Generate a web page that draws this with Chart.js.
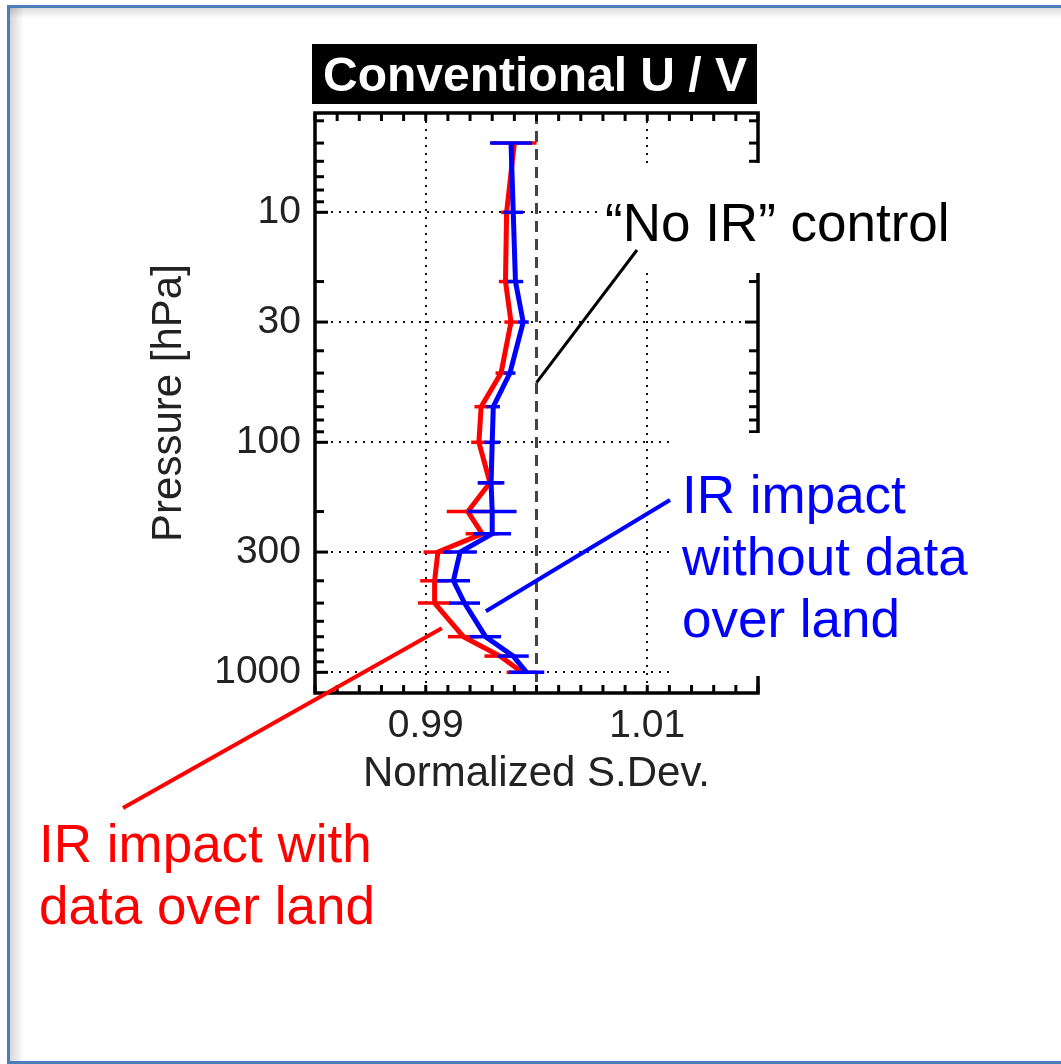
<!DOCTYPE html>
<html>
<head>
<meta charset="utf-8">
<script src="https://cdn.jsdelivr.net/npm/chart.js@4.4.1/dist/chart.umd.min.js"></script>
<style>
  html, body { margin: 0; padding: 0; background: #fff; }
  #wrap { width: 1061px; height: 1064px; }
</style>
</head>
<body>
<div id="wrap"><canvas id="chart" width="1061" height="1064"></canvas></div>
<script>
/* ======== Data ======== */
const levels = [5, 10, 20, 30, 50, 70, 100, 150, 200, 250, 300, 400, 500, 700, 850, 1000];
// blue: IR impact without data over land
const noLandVals = [0.9977, 0.9979, 0.9981, 0.9988, 0.9976, 0.9961, 0.9960, 0.9959, 0.9960, 0.9960, 0.9931, 0.9925, 0.9935, 0.9954, 0.9979, 0.9991];
const noLandErr  = [0.0019, 0.0009, 0.0007, 0.0005, 0.0005, 0.0006, 0.0007, 0.0012, 0.0022, 0.0017, 0.0015, 0.0015, 0.0014, 0.0014, 0.0014, 0.0016];
// red: IR impact with data over land
const landVals = [0.9980, 0.9973, 0.9972, 0.9977, 0.9968, 0.9950, 0.9948, 0.9958, 0.9938, 0.9951, 0.9911, 0.9908, 0.9908, 0.9934, 0.9967, 0.9987];
const landErr  = [0.0020, 0.0005, 0.0006, 0.0006, 0.0005, 0.0006, 0.0007, 0.0011, 0.0019, 0.0015, 0.0013, 0.0013, 0.0015, 0.0014, 0.0014, 0.0014];
const controlValue = 1.00;
const xTickLabels = [0.99, 1.01];
const yTickLabels = [10, 30, 100, 300, 1000];
const xRange = [0.98, 1.02];
const yRange = [3.7, 1230];

const titleText = 'Conventional U / V';
const controlNote = ['\u201cNo IR\u201d control'];
const noLandNote = ['IR impact', 'without data', 'over land'];
const landNote = ['IR impact with', 'data over land'];

const FONT = "'Liberation Sans', Arial, Helvetica, sans-serif";
const RED = '#ff0000', BLUE = '#0000ff';

/* ======== Helpers ======== */
function line(ctx, x1, y1, x2, y2) {
    ctx.beginPath(); ctx.moveTo(x1, y1); ctx.lineTo(x2, y2); ctx.stroke();
}

const errorSets = [
    { vals: noLandVals, err: noLandErr, color: BLUE },
    { vals: landVals, err: landErr, color: RED }
];

/* ======== Decorations plugin ======== */
const decor = {
    id: 'decor',
    beforeDatasetsDraw(chart) {
        const { ctx, chartArea: a, scales: { x } } = chart;
        const px = x.getPixelForValue(controlValue);
        ctx.save();
        ctx.strokeStyle = '#444'; ctx.lineWidth = 3; ctx.setLineDash([11, 7]);
        line(ctx, px, a.top, px, a.bottom);
        ctx.restore();
    },
    afterDatasetDraw(chart, args) {
        const { ctx, scales: { x, y } } = chart;
        const s = errorSets[args.index];
        ctx.save();
        ctx.strokeStyle = s.color; ctx.lineWidth = 3.5;
        levels.forEach((p, i) => {
            const py = y.getPixelForValue(p);
            line(ctx, x.getPixelForValue(s.vals[i] - s.err[i]), py, x.getPixelForValue(s.vals[i] + s.err[i]), py);
        });
        ctx.restore();
    },
    afterDraw(chart) {
        const { ctx, chartArea: a, scales: { x, y } } = chart;
        ctx.save();
        // plot frame
        ctx.strokeStyle = '#000'; ctx.lineWidth = 3.5;
        ctx.strokeRect(a.left, a.top, a.width, a.height);
        // inward ticks, y (log)
        ctx.lineWidth = 3;
        [1, 10, 100, 1000].forEach(dec => {
            for (let m = 1; m <= 9; m++) {
                const v = m * dec;
                if (v < yRange[0] || v > yRange[1]) continue;
                const len = yTickLabels.includes(v) ? 13 : 9;
                const py = y.getPixelForValue(v);
                line(ctx, a.left, py, a.left + len, py);
                line(ctx, a.right, py, a.right - len, py);
            }
        });
        // inward ticks, x
        for (let k = 0; k <= 20; k++) {
            const px = x.getPixelForValue(xRange[0] + k * 0.002);
            line(ctx, px, a.top, px, a.top + 8);
            line(ctx, px, a.bottom, px, a.bottom - 8);
        }
        // white label boxes covering part of the plot
        ctx.fillStyle = '#fff';
        ctx.fillRect(600, 163, 370, 110);
        ctx.fillRect(673, 433, 310, 243);

        // annotation texts
        ctx.font = '53px ' + FONT;
        ctx.textAlign = 'left'; ctx.textBaseline = 'alphabetic';
        ctx.fillStyle = '#000';
        controlNote.forEach((t, i) => ctx.fillText(t, 605, 241 + i * 62));
        ctx.fillStyle = BLUE;
        noLandNote.forEach((t, i) => ctx.fillText(t, 682, 513 + i * 62));
        ctx.fillStyle = RED;
        landNote.forEach((t, i) => ctx.fillText(t, 39, 862 + i * 62));

        // leader lines (chart end anchored in data units)
        ctx.lineWidth = 3; ctx.strokeStyle = '#000';
        line(ctx, 637, 250, x.getPixelForValue(controlValue), y.getPixelForValue(55));
        ctx.lineWidth = 4; ctx.strokeStyle = BLUE;
        line(ctx, 670, 500, x.getPixelForValue(0.99543), y.getPixelForValue(543));
        ctx.strokeStyle = RED;
        line(ctx, 123, 808, x.getPixelForValue(0.99145), y.getPixelForValue(644));

        // title box
        ctx.fillStyle = '#000';
        ctx.fillRect(312, 44, 445, 60);
        ctx.fillStyle = '#fff';
        ctx.font = 'bold 48px ' + FONT;
        ctx.textAlign = 'center';
        ctx.fillText(titleText, 535, 91);

        // slide frame with inner shadow
        let g = ctx.createLinearGradient(10, 0, 24, 0);
        g.addColorStop(0, 'rgba(0,0,0,0.16)'); g.addColorStop(1, 'rgba(0,0,0,0)');
        ctx.fillStyle = g; ctx.fillRect(10, 8, 14, 1054);
        g = ctx.createLinearGradient(0, 8, 0, 18);
        g.addColorStop(0, 'rgba(0,0,0,0.14)'); g.addColorStop(1, 'rgba(0,0,0,0)');
        ctx.fillStyle = g; ctx.fillRect(10, 8, 1060, 10);
        ctx.strokeStyle = '#4a7ebb'; ctx.lineWidth = 3;
        ctx.strokeRect(8.5, 6.5, 1100, 1056);
        ctx.restore();
    }
};

/* ======== Chart ======== */
const toPoints = (vals) => levels.map((p, i) => ({ x: vals[i], y: p }));

new Chart(document.getElementById('chart'), {
    type: 'line',
    data: {
        datasets: [
            { label: 'IR impact without data over land', data: toPoints(noLandVals), borderColor: BLUE, borderWidth: 5, pointRadius: 0, tension: 0 },
            { label: 'IR impact with data over land', data: toPoints(landVals), borderColor: RED, borderWidth: 5, pointRadius: 0, tension: 0 }
        ]
    },
    options: {
        responsive: false,
        animation: false,
        layout: { padding: { top: 113, right: 303, left: 140, bottom: 262 } },
        plugins: { legend: { display: false }, tooltip: { enabled: false } },
        scales: {
            x: {
                type: 'linear', min: xRange[0], max: xRange[1],
                afterBuildTicks: (s) => { s.ticks = xTickLabels.map(v => ({ value: v })); },
                afterFit: (s) => { s.height = 109; },
                ticks: { autoSkip: false, padding: 10, color: '#222', font: { family: FONT, size: 39 }, callback: (v) => v.toFixed(2) },
                grid: { color: '#111', lineWidth: 2, drawTicks: false },
                border: { display: false, dash: [2, 6] },
                title: { display: true, text: 'Normalized S.Dev.', color: '#222', font: { family: FONT, size: 42 }, padding: { top: 0, bottom: 2 } }
            },
            y: {
                type: 'logarithmic', reverse: true, min: yRange[0], max: yRange[1],
                afterBuildTicks: (s) => { s.ticks = yTickLabels.map(v => ({ value: v })); },
                afterFit: (s) => { s.width = 315 - 140; },
                ticks: { autoSkip: false, padding: 14, color: '#222', font: { family: FONT, size: 39 }, callback: (v) => String(v) },
                grid: { color: '#111', lineWidth: 2, drawTicks: false },
                border: { display: false, dash: [2, 6] },
                title: { display: true, text: 'Pressure [hPa]', color: '#222', font: { family: FONT, size: 42 }, padding: { top: 4, bottom: 0 } }
            }
        }
    },
    plugins: [decor]
});
</script>
</body>
</html>
